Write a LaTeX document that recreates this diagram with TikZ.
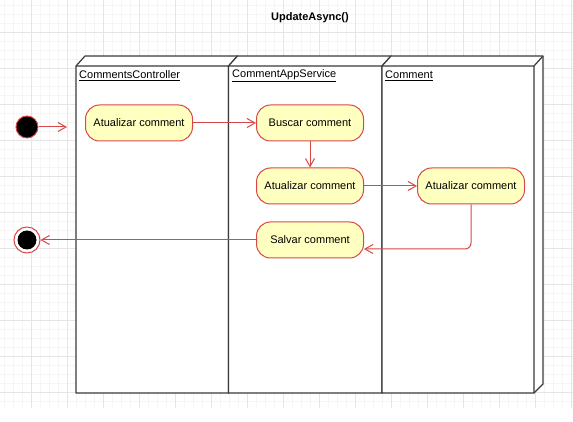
\documentclass[tikz,border=0pt]{standalone}
\usepackage{fontspec}
\setmainfont{Liberation Sans}
\usepackage{tikz}
\usetikzlibrary{arrows.meta}
\definecolor{actred}{HTML}{D94848}
\definecolor{actfill}{HTML}{FFFFC0}
\definecolor{lanegray}{HTML}{3A3A3A}
\tikzset{
  ac/.style={rectangle, rounded corners=14pt, draw=actred, fill=actfill, line width=1pt,
             minimum width=107pt, minimum height=36pt, inner sep=1pt,
             font=\fontsize{11}{13}\selectfont},                              % action
  fl/.style={draw=actred, line width=1pt, -{Straight Barb[length=8pt,width=9pt]}}, % control flow
  ln/.style={draw=lanegray, line width=1.2pt, line join=round},                 % swimlane box
  lt/.style={anchor=west, inner sep=0pt, font=\fontsize{11}{13}\selectfont},    % lane title
  ini/.style={circle, draw=actred, fill=black, line width=1pt, minimum size=22pt, inner sep=0pt},
  fin/.style={circle, draw=actred, fill=white, line width=1pt, minimum size=26pt, inner sep=0pt},
  gmin/.style={draw=black!4, line width=0.6pt},                                 % fine grid
  gmaj/.style={draw=black!10, line width=0.7pt},                                % major grid
}

\begin{document}
\begin{tikzpicture}[x=1pt,y=-1pt]
  \useasboundingbox (0,0) rectangle (573,422);
  % background grid
  \foreach \x in {4,13,...,573} \draw[gmin] (\x,0) -- (\x,408);
  \foreach \y in {5,14,...,408} \draw[gmin] (0,\y) -- (573,\y);
  \foreach \x in {31,67,...,573} \draw[gmaj] (\x,0) -- (\x,408);
  \foreach \y in {32,68,...,408} \draw[gmaj] (0,\y) -- (573,\y);
  % swimlanes
  \foreach \a/\b in {76/228.5,228.5/382,382/534} {
    \filldraw[ln, fill=white] (\a,66) -- (\a+9,56) -- (\b+9,56) -- (\b+9,384)
      -- (\b,393) -- (\a,393) -- cycle;
    \draw[ln] (\a,66) -- (\b,66) -- (\b+9,56) (\b,66) -- (\b,393);
  }
  \node[font=\bfseries\fontsize{11}{13}\selectfont] (ttl) at (310,18) {UpdateAsync()};
  \node[lt] (t1) at (79,76) {\underline{CommentsController}};
  \node[lt] (t2) at (232,76) {\underline{CommentAppService}};
  \node[lt] (t3) at (385,76) {\underline{Comment}};

  \node[ini] (ini) at (27,127) {};
  \coordinate (ent) at (67,127);
  \node[ac] (a1) at (139,123) {Atualizar comment};
  \node[ac] (bc) at (310,123) {Buscar comment};
  \node[ac] (a2) at (310,186) {Atualizar comment};
  \node[ac] (a3) at (471,186) {Atualizar comment};
  \node[ac] (sc) at (310,240) {Salvar comment};
  \node[fin] (fim) at (27,240) {};
  \fill[black] (fim.center) circle (9.5);

  \draw[fl] (ini) -- (ent);
  \foreach \u/\v in {a1/bc,bc/a2,a2/a3,sc/fim}
    \draw[fl] (\u) -- (\v);
  \draw[fl, rounded corners=6pt] (a3) |- ([yshift=-9pt]sc.east);
\end{tikzpicture}
\end{document}
